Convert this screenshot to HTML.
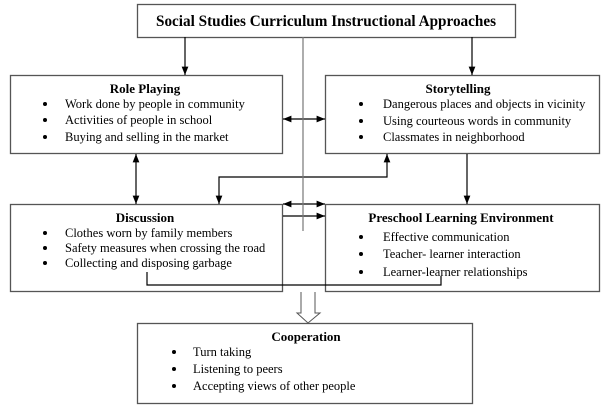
<!DOCTYPE html>
<html><head><meta charset="utf-8"><style>
html,body{margin:0;padding:0;background:#fff;}
svg{display:block;font-family:"Liberation Serif",serif;}
</style></head><body>
<svg width="602" height="406" viewBox="0 0 602 406" xmlns="http://www.w3.org/2000/svg">
<defs>
<marker id="a" viewBox="0 0 10 10" refX="10" refY="5" markerWidth="7" markerHeight="7" orient="auto-start-reverse"><path d="M0,1 L10,5 L0,9 z" fill="#000"/></marker>
</defs>
<g fill="#fff" stroke="#555" stroke-width="1.3">
<rect x="137.5" y="4.5" width="378" height="33"/>
<rect x="10.5" y="75.5" width="272" height="78"/>
<rect x="325.5" y="75.5" width="274" height="78"/>
<rect x="10.5" y="204.5" width="272" height="87"/>
<rect x="325.5" y="204.5" width="274" height="87"/>
<rect x="137.5" y="323.5" width="335" height="80"/>
</g>
<g stroke="#000" stroke-width="1.2" fill="none">
<line x1="185" y1="37" x2="185" y2="75" marker-end="url(#a)"/>
<line x1="472" y1="37" x2="472" y2="75" marker-end="url(#a)"/>
<line x1="283" y1="119" x2="325" y2="119" marker-start="url(#a)" marker-end="url(#a)"/>
<line x1="136" y1="154" x2="136" y2="204" marker-start="url(#a)" marker-end="url(#a)"/>
<polyline points="387,154 387,177 219,177 219,204" marker-start="url(#a)" marker-end="url(#a)"/>
<line x1="467" y1="154" x2="467" y2="204" marker-end="url(#a)"/>
<line x1="283" y1="204" x2="325" y2="204" marker-start="url(#a)" marker-end="url(#a)"/>
<line x1="283" y1="216" x2="325" y2="216" marker-end="url(#a)"/>
<polyline points="147,272 147,285 441,285 441,276"/>
</g>
<line x1="303" y1="37" x2="303" y2="231" stroke="#777" stroke-width="1.2"/>
<path d="M301,292 L301,313 L297,313 L308,323 L320,313 L315,313 L315,292" fill="#fff" stroke="#555" stroke-width="1"/>
<g fill="#000">
<text x="326" y="26" text-anchor="middle" font-size="16" font-weight="bold" textLength="340" lengthAdjust="spacingAndGlyphs">Social Studies Curriculum  Instructional  Approaches</text>
<g font-size="13" font-weight="bold" text-anchor="middle">
<text x="145" y="93">Role Playing</text>
<text x="458" y="93">Storytelling</text>
<text x="145" y="222">Discussion</text>
<text x="461" y="222">Preschool Learning Environment</text>
<text x="306" y="341">Cooperation</text>
</g>
<g font-size="12.5">
<text x="65" y="108">Work done by people in community</text>
<text x="65" y="124">Activities of people in school</text>
<text x="65" y="141">Buying and selling in the market</text>
<text x="383" y="108">Dangerous places and objects in vicinity</text>
<text x="383" y="125">Using courteous words in community</text>
<text x="383" y="141">Classmates in neighborhood</text>
<text x="65" y="237">Clothes worn by family members</text>
<text x="65" y="252">Safety measures when crossing the road</text>
<text x="65" y="267">Collecting and disposing garbage</text>
<text x="383" y="241">Effective communication</text>
<text x="383" y="258">Teacher- learner interaction</text>
<text x="383" y="276">Learner-learner relationships</text>
<text x="193" y="356">Turn taking</text>
<text x="193" y="373">Listening to peers</text>
<text x="193" y="390">Accepting views of other people</text>
</g>
<g>
<circle cx="45" cy="104" r="2"/><circle cx="45" cy="120" r="2"/><circle cx="45" cy="137" r="2"/>
<circle cx="361" cy="104" r="2"/><circle cx="361" cy="121" r="2"/><circle cx="361" cy="137" r="2"/>
<circle cx="45" cy="233" r="2"/><circle cx="45" cy="248" r="2"/><circle cx="45" cy="263" r="2"/>
<circle cx="361" cy="237" r="2"/><circle cx="361" cy="254" r="2"/><circle cx="361" cy="272" r="2"/>
<circle cx="174" cy="352" r="2"/><circle cx="174" cy="369" r="2"/><circle cx="174" cy="386" r="2"/>
</g>
</g>
</svg>
</body></html>
